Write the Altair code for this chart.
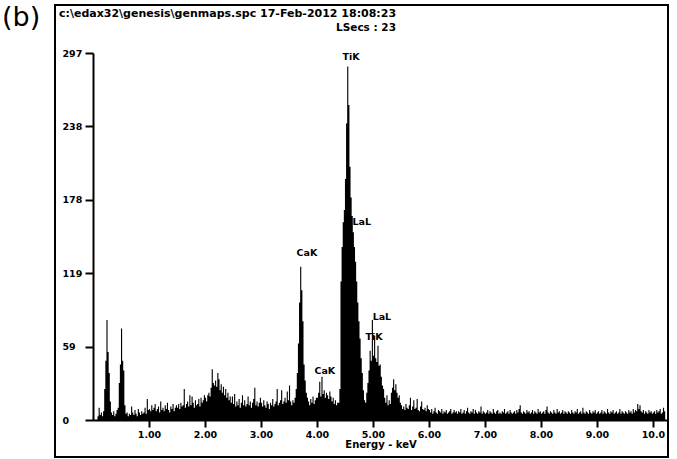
import altair as alt
import pandas as pd

# EDS spectrum, 0.02 keV channels starting at 0.00 keV (25 channels per row = 0.5 keV)
BIN_KEV = 0.02
counts_rows = [
    [0, 0, 0, 0, 3, 10, 4, 6, 3, 7, 25, 48, 81, 55, 38, 15, 6, 4, 7, 3, 5, 8, 10, 30, 45],
    [74, 48, 40, 12, 5, 6, 3, 5, 4, 11, 6, 4, 8, 5, 3, 9, 6, 4, 7, 5, 6, 10, 5, 17, 8],
    [9, 7, 12, 8, 10, 13, 7, 9, 11, 6, 15, 8, 10, 7, 12, 9, 14, 8, 6, 11, 9, 13, 7, 10, 12],
    [10, 13, 9, 14, 11, 12, 25, 10, 13, 15, 11, 20, 12, 19, 14, 10, 16, 12, 13, 17, 11, 18, 14, 16, 20],
    [18, 15, 20, 22, 19, 26, 41, 30, 28, 32, 27, 38, 33, 24, 29, 22, 27, 20, 25, 18, 22, 16, 19, 14, 19],
    [13, 21, 11, 15, 12, 17, 10, 14, 20, 12, 16, 11, 13, 19, 12, 15, 10, 14, 17, 26, 12, 15, 11, 14, 18],
    [14, 11, 16, 12, 10, 15, 13, 9, 14, 12, 17, 11, 13, 15, 25, 12, 14, 16, 24, 13, 15, 18, 14, 23, 16],
    [28, 15, 12, 16, 14, 18, 25, 38, 62, 95, 124, 105, 80, 45, 32, 22, 18, 15, 12, 17, 14, 19, 13, 16, 18],
    [18, 22, 31, 19, 35, 21, 24, 18, 22, 20, 17, 23, 19, 15, 18, 13, 16, 12, 14, 14, 25, 112, 140, 160, 170],
    [195, 240, 286, 255, 205, 180, 165, 152, 140, 128, 112, 95, 80, 66, 50, 38, 24, 16, 14, 22, 30, 40, 56, 48, 81],
    [52, 68, 50, 47, 60, 44, 45, 35, 28, 25, 18, 14, 20, 12, 16, 13, 22, 26, 33, 24, 29, 22, 18, 20, 14],
    [12, 9, 11, 8, 13, 10, 9, 12, 18, 8, 11, 16, 9, 10, 17, 8, 7, 11, 15, 9, 8, 10, 7, 12, 9],
    [8, 6, 9, 5, 7, 10, 6, 5, 8, 7, 6, 9, 5, 7, 6, 8, 5, 6, 7, 9, 5, 6, 8, 6, 7],
    [5, 7, 6, 9, 5, 6, 8, 5, 7, 10, 6, 5, 7, 6, 9, 5, 8, 6, 5, 7, 6, 11, 5, 7, 6],
    [5, 6, 8, 5, 7, 6, 5, 9, 6, 5, 7, 8, 5, 6, 5, 7, 6, 9, 5, 6, 7, 5, 8, 6, 5],
    [6, 7, 5, 8, 6, 9, 12, 6, 5, 7, 6, 5, 8, 6, 7, 5, 6, 8, 5, 7, 6, 5, 9, 6, 7],
    [5, 6, 7, 5, 8, 11, 6, 5, 7, 6, 5, 8, 6, 5, 9, 6, 7, 5, 6, 8, 5, 7, 6, 5, 7],
    [6, 5, 8, 6, 5, 7, 6, 9, 5, 6, 7, 5, 10, 6, 5, 7, 6, 5, 8, 6, 5, 7, 6, 8, 5],
    [6, 7, 5, 6, 8, 5, 7, 6, 5, 9, 6, 5, 7, 6, 8, 5, 6, 7, 5, 6, 9, 5, 7, 6, 5],
    [7, 6, 5, 8, 6, 7, 5, 9, 6, 8, 7, 13, 9, 12, 7, 6, 8, 5, 7, 6, 5, 8, 6, 7, 5],
    [6, 7, 5, 8, 6, 7, 9, 5, 6, 10, 7, 6],
]
counts = [c for row in counts_rows for c in row]
energy = [round(i * BIN_KEV, 2) for i in range(len(counts))]

# Peak identification labels
peak_names = ["TiK", "LaL", "CaK", "CaK", "LaL", "TiK"]
peak_kev = [4.61, 4.80, 3.82, 4.14, 5.16, 5.02]
peak_cts = [294, 160, 135, 40, 83, 67]

# Axis ticks
y_ticks = [0, 59.4, 118.8, 178.2, 237.6, 297]
x_ticks = [1, 2, 3, 4, 5, 6, 7, 8, 9, 10]

spec = pd.DataFrame({"energy": energy, "counts": counts})
labels = pd.DataFrame({"name": peak_names, "energy": peak_kev, "counts": peak_cts})
one = pd.DataFrame({"k": [0]})

FONT = "DejaVu Sans"
W, H = 575, 367

x_scale = alt.Scale(domain=[0, 10.27], nice=False, zero=False)
y_scale = alt.Scale(domain=[0, 297], nice=False)

spectrum = alt.Chart(spec).mark_area(
    interpolate="step-after", color="black", clip=True
).encode(
    x=alt.X(
        "energy:Q",
        scale=x_scale,
        axis=alt.Axis(
            values=x_ticks,
            labelExpr="datum.value < 10 ? format(datum.value, '.2f') : format(datum.value, '.1f')",
            title="Energy - keV",
            grid=False,
            domainColor="black",
            domainWidth=2,
            tickColor="black",
            tickWidth=2,
            tickSize=7,
            labelFont=FONT,
            labelFontWeight="bold",
            labelFontSize=9.5,
            labelColor="black",
            labelPadding=2,
            titleFont=FONT,
            titleFontWeight="bold",
            titleFontSize=10,
            titleColor="black",
            titlePadding=1,
        ),
    ),
    y=alt.Y(
        "counts:Q",
        scale=y_scale,
        axis=alt.Axis(
            values=y_ticks,
            format=".0f",
            title=None,
            grid=False,
            domainColor="black",
            domainWidth=2,
            tickColor="black",
            tickWidth=2,
            tickSize=8,
            labelFont=FONT,
            labelFontWeight="bold",
            labelFontSize=9.5,
            labelColor="black",
            labelAlign="left",
            labelPadding=23,
        ),
    ),
)

peak_text = alt.Chart(labels).mark_text(
    font=FONT, fontWeight="bold", fontSize=9.5, color="black", align="center", baseline="middle"
).encode(x=alt.X("energy:Q", scale=x_scale), y=alt.Y("counts:Q", scale=y_scale), text="name:N")

header1 = alt.Chart(one).mark_text(
    text="c:\\edax32\\genesis\\genmaps.spc  17-Feb-2012 18:08:23",
    font=FONT, fontWeight="bold", fontSize=11, color="black", align="left", baseline="middle",
).encode(x=alt.value(-34), y=alt.value(-39))

header2 = alt.Chart(one).mark_text(
    text="LSecs : 23",
    font=FONT, fontWeight="bold", fontSize=10.5, color="black", align="right", baseline="middle",
).encode(x=alt.value(303), y=alt.value(-25))

panel_tag = alt.Chart(one).mark_text(
    text="(b)", font=FONT, fontSize=27, color="black", align="left", baseline="middle",
).encode(x=alt.value(-91), y=alt.value(-35))

frame = alt.Chart(one).mark_rect(
    fillOpacity=0, stroke="black", strokeWidth=2
).encode(x=alt.value(-38), x2=alt.value(575), y=alt.value(-48), y2=alt.value(404))

chart = alt.layer(spectrum, peak_text, header1, header2, panel_tag, frame).properties(
    width=W,
    height=H,
    autosize=alt.AutoSizeParams(type="none"),
    padding={"left": 93, "top": 53, "right": 677 - 93 - W, "bottom": 459 - 53 - H},
    background="white",
).configure_view(stroke=None)

chart.save("out.html", embed_options={"renderer": "svg", "actions": False})
